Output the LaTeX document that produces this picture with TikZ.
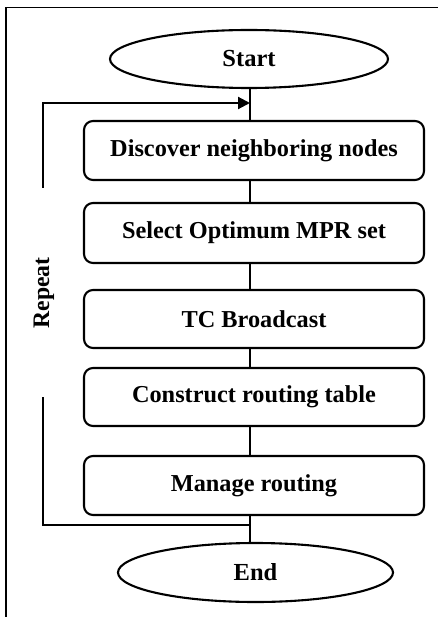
\documentclass[tikz,border=0pt]{standalone}
\usepackage{fontspec}
\setmainfont{Liberation Serif}
\usetikzlibrary{shapes.geometric,arrows.meta}
\tikzset{
  flow/.style={line width=2.1pt},
  stepbox/.style={draw, line width=2.1pt, rounded corners=9pt,
    minimum width=340pt, inner sep=0pt, font=\bfseries\fontsize{24.3}{28}\selectfont},
  terminal/.style={draw, ellipse, line width=2.1pt, inner sep=0pt,
    font=\bfseries\fontsize{24.5}{28}\selectfont},
}
\begin{document}
\begin{tikzpicture}[x=1pt,y=-1pt]
  \useasboundingbox (0,0) rectangle (438,617);
  % partial frame
  \draw[line width=1.4pt] (6,617) -- (6,7.5) -- (438,7.5);

  % terminals
  \node[terminal, minimum width=278pt, minimum height=58pt] (start) at (249,59) {Start};
  \node[terminal, minimum width=275pt, minimum height=59pt] (end) at (255.5,572.5) {End};

  % process steps
  \node[stepbox, minimum height=59pt] (s1) at (254,150.5) {Discover neighboring nodes};
  \node[stepbox, minimum height=60pt] (s2) at (254,233) {Select Optimum MPR set};
  \node[stepbox, minimum height=58pt] (s3) at (254,319) {TC Broadcast};
  \node[stepbox, minimum height=58pt] (s4) at (254,397) {Construct routing table};
  \node[stepbox, minimum height=59pt] (s5) at (254,485.5) {Manage routing};

  % main line of the flow
  \coordinate (axis) at (250,0);
  \draw[flow] (start.south -| axis) -- (s1.north -| axis);
  \draw[flow] (s1.south -| axis) -- (s2.north -| axis);
  \draw[flow] (s2.south -| axis) -- (s3.north -| axis);
  \draw[flow] (s3.south -| axis) -- (s4.north -| axis);
  \draw[flow] (s4.south -| axis) -- (s5.north -| axis);
  \draw[flow] (s5.south -| axis) -- (end.north -| axis);

  % repeat loop
  \coordinate (loopin) at (250,103);
  \coordinate (loopout) at (250,525);
  \coordinate (upperend) at (43,188);
  \coordinate (lowerend) at (43,397);
  \draw[flow, -{Triangle[length=12pt,width=12pt]}]
    (upperend) -- (upperend |- loopin) -- (loopin);
  \draw[flow] (loopout) -- (lowerend |- loopout) -- (lowerend);
  \node[rotate=90, font=\bfseries\fontsize{23.7}{28}\selectfont] (rep) at (44,293) {Repeat};
\end{tikzpicture}
\end{document}
